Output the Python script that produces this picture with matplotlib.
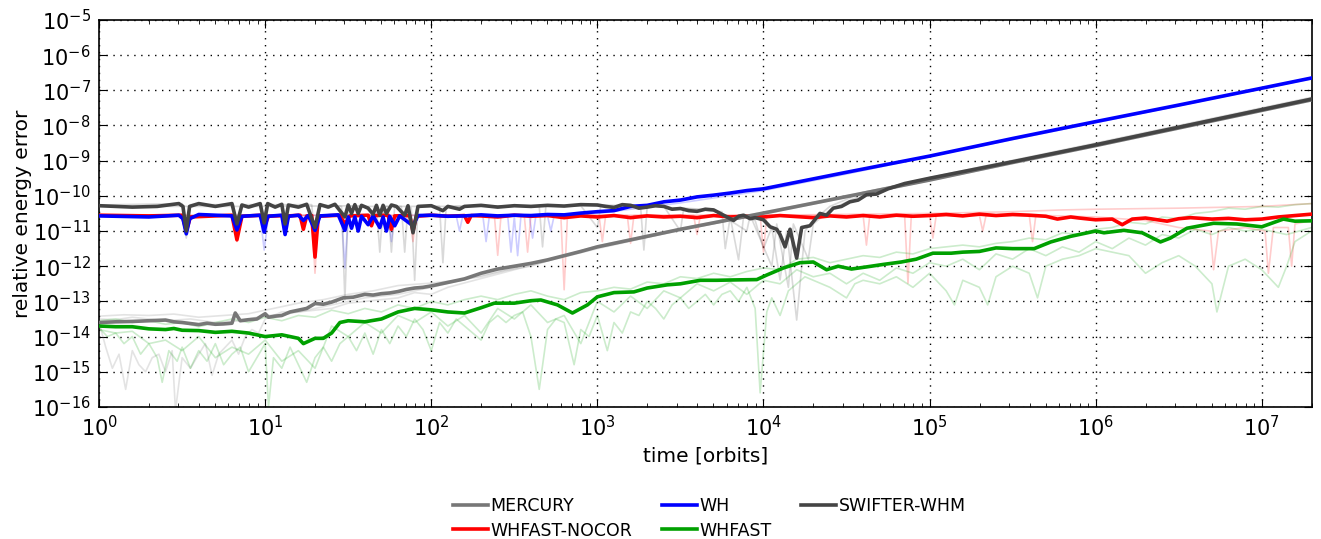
#! /usr/bin/env python3

import numpy as np
import matplotlib
matplotlib.use('Agg')
import matplotlib.pyplot as plt
import matplotlib.ticker as mticker
plt.rcParams.update({'font.size': 14, 'font.family': 'DejaVu Sans',
                     'mathtext.default': 'regular'})


#======================================================================
#    Data: (log10 time [orbits], log10 energy error)

# thick (representative) runs
mercury = [(0, -13.6), (0.1, -13.58), (0.2, -13.57), (0.3, -13.55), (0.4, -13.53),
           (0.45, -13.58), (0.5, -13.6), (0.55, -13.63), (0.6, -13.66), (0.65, -13.62),
           (0.7, -13.65), (0.75, -13.64), (0.8, -13.62), (0.82, -13.33), (0.85, -13.55),
           (0.9, -13.52), (0.95, -13.5), (1.0, -13.35), (1.02, -13.45), (1.06, -13.42),
           (1.1, -13.4), (1.15, -13.3), (1.2, -13.25), (1.25, -13.2), (1.3, -13.06),
           (1.35, -13.08), (1.4, -13.02), (1.47, -12.9), (1.53, -12.88), (1.6, -12.8),
           (1.65, -12.82), (1.7, -12.78), (1.75, -12.76), (1.8, -12.72), (1.85, -12.66),
           (1.9, -12.62), (1.95, -12.6), (2.0, -12.56), (2.1, -12.46), (2.2, -12.36),
           (2.3, -12.2), (2.4, -12.08), (2.5, -12.0), (2.6, -11.92), (2.7, -11.82),
           (2.8, -11.7), (2.9, -11.58), (3.0, -11.45), (3.5, -10.95), (4.0, -10.49),
           (4.5, -10.02), (5.0, -9.55), (5.5, -9.05), (6.0, -8.57), (6.5, -8.07),
           (7.0, -7.57), (7.3, -7.27)]

wh = [(0, -10.57), (0.3, -10.6), (0.48, -10.55), (0.505, -10.65), (0.525, -11.08),
      (0.545, -10.65), (0.6, -10.53), (0.8, -10.57), (0.83, -10.97), (0.86, -10.58),
      (0.97, -10.55), (0.994, -11.03), (1.015, -10.58), (1.1, -10.55), (1.12, -11.1),
      (1.14, -10.58), (1.2, -10.55), (1.23, -10.7), (1.26, -10.56), (1.30, -10.98),
      (1.33, -10.57), (1.44, -10.54), (1.48, -10.98), (1.50, -10.6), (1.52, -10.92),
      (1.54, -10.6), (1.56, -11.0), (1.58, -10.58), (1.62, -10.82), (1.65, -10.57),
      (1.69, -10.9), (1.71, -10.6), (1.73, -11.0), (1.75, -10.58), (1.78, -10.85),
      (1.81, -10.57), (1.89, -10.85), (1.92, -10.56), (2.0, -10.55), (2.1, -10.58),
      (2.2, -10.57), (2.3, -10.54), (2.4, -10.57), (2.5, -10.55), (2.6, -10.56),
      (2.7, -10.53), (2.8, -10.54), (2.9, -10.49), (3.0, -10.45), (3.1, -10.42),
      (3.2, -10.3), (3.3, -10.27), (3.4, -10.17), (3.5, -10.12), (3.6, -10.03),
      (3.7, -9.98), (3.8, -9.92), (3.9, -9.85), (4.0, -9.8), (4.5, -9.33), (5.0, -8.87),
      (5.5, -8.37), (6.0, -7.89), (6.5, -7.42), (7.0, -6.94), (7.3, -6.65)]

swifter = [(0, -10.28), (0.2, -10.32), (0.35, -10.3), (0.48, -10.22), (0.505, -10.3),
           (0.525, -11.0), (0.545, -10.3), (0.6, -10.22), (0.7, -10.3), (0.8, -10.22),
           (0.83, -10.8), (0.86, -10.26), (0.9, -10.32), (0.97, -10.22), (0.994, -10.77),
           (1.015, -10.22), (1.06, -10.32), (1.1, -10.24), (1.12, -10.8), (1.14, -10.26),
           (1.2, -10.32), (1.25, -10.24), (1.30, -10.9), (1.33, -10.25), (1.38, -10.32),
           (1.42, -10.24), (1.48, -10.6), (1.50, -10.26), (1.52, -10.5), (1.54, -10.25),
           (1.56, -10.5), (1.58, -10.27), (1.62, -10.35), (1.65, -10.52), (1.67, -10.27),
           (1.69, -10.55), (1.71, -10.27), (1.73, -10.5), (1.76, -10.26), (1.79, -10.3),
           (1.84, -10.55), (1.86, -10.28), (1.89, -11.05), (1.92, -10.3), (2.0, -10.28),
           (2.07, -10.42), (2.1, -10.3), (2.17, -10.38), (2.2, -10.3), (2.3, -10.27),
           (2.4, -10.32), (2.5, -10.28), (2.6, -10.3), (2.7, -10.27), (2.8, -10.29),
           (2.9, -10.25), (3.0, -10.26), (3.05, -10.3), (3.1, -10.33), (3.15, -10.25),
           (3.2, -10.27), (3.25, -10.35), (3.3, -10.32), (3.35, -10.28), (3.4, -10.3),
           (3.45, -10.38), (3.5, -10.36), (3.55, -10.42), (3.6, -10.44), (3.65, -10.38),
           (3.7, -10.4), (3.74, -10.5), (3.78, -10.6), (3.82, -10.7), (3.85, -10.58),
           (3.88, -10.55), (3.92, -10.65), (3.95, -10.62), (4.0, -10.68), (4.04, -10.88),
           (4.08, -10.95), (4.1, -11.1), (4.13, -11.45), (4.16, -10.95), (4.2, -11.77),
           (4.23, -10.9), (4.28, -10.85), (4.34, -10.5), (4.38, -10.55), (4.42, -10.35),
           (4.47, -10.3), (4.52, -10.17), (4.57, -10.12), (4.62, -9.97), (4.68, -9.95),
           (4.75, -9.8), (4.85, -9.65), (5.0, -9.5), (5.5, -9.03), (6.0, -8.55),
           (6.5, -8.05), (7.0, -7.55), (7.3, -7.25)]

nocor = [(0, -10.55), (0.3, -10.57), (0.5, -10.55), (0.525, -11.0), (0.55, -10.6),
         (0.8, -10.55), (0.83, -11.25), (0.86, -10.58), (0.98, -10.55), (1.0, -10.8),
         (1.02, -10.58), (1.11, -10.56), (1.125, -10.8), (1.14, -10.57), (1.21, -10.55),
         (1.23, -10.95), (1.25, -10.57), (1.28, -10.56), (1.30, -11.74), (1.32, -10.58),
         (1.45, -10.55), (1.48, -10.8), (1.51, -10.57), (1.62, -10.55), (1.64, -10.85),
         (1.66, -10.56), (1.74, -10.55), (1.76, -10.95), (1.78, -10.57), (1.87, -10.56),
         (1.89, -11.0), (1.91, -10.58), (2.0, -10.55), (2.1, -10.58), (2.2, -10.56),
         (2.22, -10.75), (2.24, -10.56), (2.3, -10.57), (2.4, -10.6), (2.5, -10.55),
         (2.6, -10.58), (2.7, -10.56), (2.8, -10.62), (2.9, -10.57), (3.0, -10.6),
         (3.1, -10.56), (3.2, -10.62), (3.3, -10.57), (3.4, -10.6), (3.5, -10.58),
         (3.6, -10.62), (3.7, -10.56), (3.8, -10.6), (3.9, -10.58), (4.0, -10.6),
         (4.1, -10.56), (4.2, -10.59), (4.3, -10.62), (4.4, -10.57), (4.5, -10.6),
         (4.6, -10.56), (4.7, -10.6), (4.8, -10.55), (4.9, -10.58), (5.0, -10.56),
         (5.1, -10.53), (5.2, -10.57), (5.3, -10.52), (5.4, -10.56), (5.5, -10.53),
         (5.6, -10.55), (5.7, -10.58), (5.77, -10.66), (5.85, -10.6), (5.9, -10.63),
         (6.0, -10.68), (6.1, -10.66), (6.16, -10.82), (6.22, -10.66), (6.3, -10.63),
         (6.43, -10.72), (6.5, -10.65), (6.57, -10.62), (6.7, -10.66), (6.8, -10.64),
         (6.9, -10.68), (7.0, -10.66), (7.1, -10.6), (7.2, -10.56), (7.3, -10.52)]

whfast = [(0, -13.7), (0.1, -13.72), (0.2, -13.72), (0.3, -13.78), (0.4, -13.8),
          (0.45, -13.77), (0.5, -13.82), (0.6, -13.83), (0.7, -13.88), (0.8, -13.85),
          (0.9, -13.9), (1.0, -14.0), (1.1, -13.95), (1.15, -14.0), (1.2, -14.05),
          (1.23, -14.2), (1.3, -14.05), (1.35, -14.05), (1.4, -13.9), (1.45, -13.6),
          (1.5, -13.55), (1.6, -13.58), (1.7, -13.5), (1.8, -13.3), (1.9, -13.2),
          (2.0, -13.24), (2.1, -13.3), (2.2, -13.33), (2.3, -13.18), (2.38, -13.05),
          (2.5, -13.05), (2.6, -12.98), (2.66, -12.96), (2.76, -13.1), (2.85, -13.33),
          (2.94, -13.1), (3.0, -12.87), (3.1, -12.75), (3.22, -12.73), (3.3, -12.62),
          (3.42, -12.53), (3.5, -12.5), (3.62, -12.4), (3.72, -12.4), (3.82, -12.39),
          (3.96, -12.38), (4.02, -12.25), (4.12, -12.05), (4.22, -11.9), (4.3, -11.88),
          (4.38, -12.1), (4.45, -12.0), (4.53, -12.08), (4.62, -12.02), (4.72, -11.95),
          (4.83, -11.88), (4.92, -11.8), (5.02, -11.63), (5.13, -11.63), (5.2, -11.6),
          (5.3, -11.58), (5.4, -11.48), (5.5, -11.5), (5.63, -11.5), (5.73, -11.31),
          (5.85, -11.15), (6.0, -11.0), (6.05, -11.05), (6.17, -10.98), (6.28, -11.05),
          (6.39, -11.31), (6.45, -11.2), (6.55, -10.92), (6.71, -10.78), (6.85, -10.8),
          (7.0, -10.88), (7.13, -10.66), (7.2, -10.72), (7.3, -10.71)]

# faint (other) runs
mercury_runs = [
    [(0, -13.42), (0.15, -13.38), (0.3, -13.4), (0.45, -13.36), (0.6, -13.45),
     (0.75, -13.4), (0.9, -13.35), (1.05, -13.2), (1.2, -13.05), (1.35, -12.95),
     (1.5, -12.8), (1.65, -12.7), (1.8, -12.55), (2.0, -12.48), (2.15, -12.4),
     (2.3, -12.3), (2.45, -12.12), (2.6, -12.0), (2.8, -11.7), (3.0, -11.42),
     (3.5, -10.93), (4.0, -10.46), (4.5, -10.0), (5.0, -9.52), (5.5, -9.02),
     (6.0, -8.53), (6.5, -8.03), (7.0, -7.53), (7.3, -7.23)],
    [(0, -13.5), (0.1, -13.52), (0.2, -13.45), (0.3, -13.5), (0.4, -13.55),
     (0.55, -13.5), (0.7, -13.6), (0.85, -13.55), (1.0, -13.4), (1.1, -13.38),
     (1.2, -13.3), (1.3, -13.25), (1.4, -13.2), (1.5, -13.05), (1.6, -13.0),
     (1.7, -12.95), (1.8, -12.9), (1.9, -12.75), (2.0, -12.8), (2.1, -12.6),
     (2.3, -12.35), (2.5, -12.1), (2.7, -11.85), (3.0, -11.5), (3.5, -10.97),
     (4.0, -10.52), (5.0, -9.57), (6.0, -8.6), (7.3, -7.3)],
    [(0, -13.6), (0.04, -14.3), (0.08, -14.9), (0.12, -14.5), (0.16, -15.5), (0.2, -14.4),
     (0.24, -14.8), (0.28, -15.0), (0.32, -14.6), (0.36, -14.5), (0.4, -15.0), (0.44, -14.4),
     (0.46, -16.1), (0.5, -14.6), (0.55, -14.9), (0.6, -14.5), (0.64, -14.2), (0.68, -15.1),
     (0.72, -14.5), (0.76, -14.3), (0.8, -14.1), (0.84, -14.5), (0.88, -14.0), (0.92, -13.8),
     (0.96, -13.9), (1.0, -13.5), (1.1, -13.3), (1.2, -13.3), (1.3, -13.2), (1.4, -13.1),
     (1.5, -13.0), (1.6, -12.9), (1.8, -12.8), (2.0, -12.6), (2.5, -12.05), (3.0, -11.47),
     (4.0, -10.5), (5.0, -9.55), (6.0, -8.56), (7.3, -7.26)],
]

swifter_runs = [
    [(0, -10.26), (0.5, -10.22), (0.525, -11.2), (0.55, -10.25), (0.81, -10.25),
     (0.83, -11.0), (0.86, -10.25), (0.97, -10.25), (0.994, -11.0), (1.02, -10.25),
     (1.28, -10.25), (1.3, -11.2), (1.33, -10.25), (1.46, -10.3), (1.48, -12.96),
     (1.50, -10.3), (1.67, -10.3), (1.69, -11.6), (1.71, -10.3), (1.74, -10.3),
     (1.76, -11.6), (1.78, -10.3), (1.82, -10.3), (1.84, -11.6), (1.86, -10.3),
     (1.88, -10.35), (1.90, -12.4), (1.92, -10.3), (2.05, -10.3), (2.07, -11.9),
     (2.09, -10.3), (2.3, -10.28), (2.65, -10.3), (2.67, -11.45), (2.69, -10.3),
     (3.0, -10.25), (3.26, -10.3), (3.28, -11.54), (3.30, -10.3), (3.5, -10.35),
     (3.75, -10.45), (3.77, -11.5), (3.8, -10.6), (3.85, -11.82), (3.88, -10.6),
     (3.95, -10.7), (4.0, -11.5), (4.05, -10.9), (4.1, -12.39), (4.14, -11.0),
     (4.2, -13.53), (4.25, -11.0), (4.3, -10.7), (4.4, -10.3), (4.5, -10.1),
     (4.6, -9.9), (4.8, -9.7), (5.0, -9.48), (6.0, -8.5), (7.0, -7.5), (7.3, -7.2)],
    [(0, -10.3), (1.0, -10.3), (1.6, -10.28), (1.7, -10.9), (1.72, -10.3), (2.2, -10.3),
     (2.9, -10.28), (3.0, -10.9), (3.02, -10.3), (3.4, -10.3), (3.5, -11.0), (3.52, -10.35),
     (3.7, -10.4), (3.9, -11.0), (3.92, -10.55), (4.05, -12.0), (4.08, -10.8), (4.15, -12.6),
     (4.18, -10.8), (4.27, -11.8), (4.3, -10.8), (4.4, -10.4), (4.6, -9.95), (5.0, -9.52),
     (6.0, -8.52), (7.3, -7.22)],
]

wh_runs = [
    [(0, -10.55), (0.5, -10.55), (0.525, -11.1), (0.55, -10.58), (0.97, -10.55),
     (0.994, -11.54), (1.02, -10.56), (1.46, -10.55), (1.48, -12.05), (1.50, -10.56),
     (1.74, -10.55), (1.76, -11.3), (1.78, -10.56), (2.0, -10.55), (2.15, -10.56),
     (2.17, -11.0), (2.19, -10.56), (2.31, -10.55), (2.33, -11.3), (2.35, -10.56),
     (2.46, -10.55), (2.48, -11.6), (2.50, -10.6), (2.52, -11.7), (2.54, -10.56),
     (2.59, -10.55), (2.61, -11.2), (2.63, -10.56), (2.7, -10.57), (2.72, -11.0),
     (2.74, -10.56), (3.0, -10.5), (3.5, -10.2), (4.0, -9.85), (4.5, -9.38),
     (5.0, -8.88), (6.0, -7.92), (7.0, -6.96), (7.3, -6.67)],
]

nocor_runs = [
    [(0, -10.56), (0.81, -10.56), (0.83, -11.3), (0.85, -10.56), (1.28, -10.56),
     (1.30, -12.2), (1.32, -10.56), (1.87, -10.56), (1.89, -11.3), (1.91, -10.56),
     (2.38, -10.56), (2.40, -11.69), (2.42, -10.56), (2.56, -10.56), (2.58, -11.6),
     (2.60, -10.56), (2.78, -10.56), (2.80, -12.67), (2.82, -10.56), (3.01, -10.56),
     (3.03, -11.3), (3.05, -10.56), (3.18, -10.56), (3.2, -11.35), (3.22, -10.56),
     (3.58, -10.56), (3.6, -11.1), (3.62, -10.56), (3.98, -10.56), (4.0, -11.6),
     (4.02, -10.56), (4.6, -10.56), (4.62, -11.4), (4.64, -10.56), (4.85, -10.56),
     (4.87, -12.48), (4.89, -10.56), (5.0, -10.56), (5.02, -11.2), (5.04, -10.56),
     (5.3, -10.56), (5.32, -11.0), (5.34, -10.56), (5.6, -10.55), (5.62, -11.3),
     (5.64, -10.55), (6.0, -10.6), (6.3, -10.7), (6.5, -10.9), (6.69, -11.0),
     (6.71, -12.1), (6.74, -11.0), (6.9, -10.9), (7.02, -11.0), (7.04, -12.2),
     (7.07, -10.9), (7.16, -10.9), (7.18, -12.0), (7.2, -10.8), (7.3, -10.7)],
    [(0, -10.55), (2.0, -10.55), (3.0, -10.55), (4.0, -10.55), (5.0, -10.5),
     (5.5, -10.45), (5.8, -10.4), (6.0, -10.38), (6.5, -10.35), (7.0, -10.3), (7.3, -10.22)],
]

whfast_runs = [
    [(0, -13.55), (0.1, -13.5), (0.2, -13.6), (0.3, -13.55), (0.4, -13.65), (0.5, -13.6),
     (0.6, -13.72), (0.7, -13.6), (0.8, -13.5), (0.9, -13.6), (1.0, -13.45), (1.1, -13.55),
     (1.2, -13.4), (1.3, -13.45), (1.4, -13.25), (1.5, -13.35), (1.6, -13.2), (1.7, -13.3),
     (1.8, -13.1), (1.9, -13.2), (2.0, -13.0), (2.1, -13.1), (2.2, -12.95), (2.3, -12.85),
     (2.4, -12.95), (2.5, -12.8), (2.6, -12.7), (2.7, -12.85), (2.8, -12.95), (2.9, -12.75),
     (3.0, -12.7), (3.1, -12.6), (3.2, -12.65), (3.3, -12.45), (3.4, -12.5), (3.5, -12.3),
     (3.6, -12.35), (3.7, -12.2), (3.8, -12.3), (3.9, -12.15), (4.0, -12.05), (4.1, -12.1),
     (4.2, -11.8), (4.3, -11.75), (4.4, -11.9), (4.5, -11.8), (4.6, -11.7), (4.7, -11.75),
     (4.8, -11.6), (4.9, -11.65), (5.0, -11.5), (5.1, -11.45), (5.2, -11.4), (5.3, -11.45),
     (5.4, -11.35), (5.5, -11.3), (5.6, -11.2), (5.7, -11.25), (5.8, -11.05), (5.9, -11.1),
     (6.0, -10.95), (6.1, -10.9), (6.2, -10.75), (6.3, -10.8), (6.4, -10.6), (6.5, -10.65),
     (6.6, -10.5), (6.7, -10.45), (6.8, -10.35), (6.9, -10.38), (7.0, -10.3), (7.1, -10.32),
     (7.2, -10.25), (7.3, -10.22)],
    [(0, -13.8), (0.1, -13.9), (0.2, -13.85), (0.3, -14.2), (0.4, -14.1), (0.5, -14.4),
     (0.6, -14.0), (0.7, -14.6), (0.8, -14.3), (0.9, -14.5), (1.0, -14.1), (1.1, -14.7),
     (1.2, -14.4), (1.3, -14.9), (1.4, -13.7), (1.5, -14.0), (1.6, -13.6), (1.7, -13.9),
     (1.8, -13.4), (1.9, -13.6), (2.0, -13.3), (2.1, -13.7), (2.2, -13.4), (2.3, -13.9),
     (2.4, -13.2), (2.5, -13.5), (2.6, -13.1), (2.7, -13.6), (2.8, -13.4), (2.9, -14.2),
     (3.0, -13.0), (3.1, -13.3), (3.2, -12.85), (3.3, -13.2), (3.4, -12.7), (3.5, -12.9),
     (3.6, -12.5), (3.7, -12.7), (3.8, -12.45), (3.9, -12.8), (4.0, -12.4), (4.1, -12.5),
     (4.2, -12.1), (4.3, -12.3), (4.4, -12.2), (4.5, -12.5), (4.6, -12.2), (4.7, -12.4),
     (4.8, -12.05), (4.9, -12.2), (5.0, -11.9), (5.1, -12.0), (5.2, -11.8), (5.3, -12.1),
     (5.4, -11.65), (5.5, -11.8), (5.6, -11.5), (5.7, -11.7), (5.8, -11.45), (5.9, -11.6),
     (6.0, -11.3), (6.1, -11.5), (6.2, -11.2), (6.3, -11.4), (6.4, -11.1), (6.5, -11.2),
     (6.6, -10.95), (6.7, -11.1), (6.8, -10.9), (6.9, -11.0), (7.0, -10.95), (7.15, -11.1),
     (7.3, -10.9)],
    [(0, -13.75), (0.05, -14.0), (0.1, -13.9), (0.15, -14.2), (0.2, -14.0), (0.25, -14.5),
     (0.3, -14.2), (0.35, -14.6), (0.38, -15.3), (0.42, -14.4), (0.47, -14.7), (0.5, -14.3),
     (0.55, -14.9), (0.6, -14.4), (0.65, -14.7), (0.7, -14.2), (0.75, -14.8), (0.8, -14.5),
     (0.85, -14.3), (0.9, -15.0), (0.95, -14.6), (1.0, -14.2), (1.02, -16.0), (1.05, -14.6),
     (1.1, -14.9), (1.15, -14.3), (1.2, -14.8), (1.25, -15.3), (1.3, -14.6), (1.35, -14.3),
     (1.4, -14.7), (1.45, -14.2), (1.5, -14.0), (1.55, -14.4), (1.6, -13.9), (1.65, -14.5),
     (1.7, -13.8), (1.75, -14.2), (1.8, -13.7), (1.85, -14.0), (1.9, -13.5), (1.95, -13.8),
     (2.0, -14.4), (2.05, -13.6), (2.1, -13.9), (2.15, -13.5), (2.2, -13.7), (2.25, -13.9),
     (2.3, -14.1), (2.35, -13.6), (2.4, -13.4), (2.45, -13.6), (2.5, -13.4), (2.55, -13.3),
     (2.6, -14.0), (2.65, -15.5), (2.7, -13.8), (2.75, -13.5), (2.8, -13.6), (2.86, -14.8),
     (2.9, -13.8), (2.95, -14.0), (3.0, -13.4), (3.06, -14.4), (3.1, -13.6), (3.15, -13.9),
     (3.2, -13.3), (3.25, -13.4), (3.3, -13.0), (3.35, -13.2), (3.4, -13.5), (3.45, -13.1),
     (3.5, -12.9), (3.55, -13.2), (3.6, -13.0), (3.65, -12.8), (3.7, -13.1), (3.75, -12.8),
     (3.8, -12.7), (3.85, -13.0), (3.9, -12.6), (3.95, -13.2), (3.98, -15.6), (4.02, -13.3),
     (4.05, -12.9), (4.1, -13.4), (4.15, -12.7), (4.2, -12.5), (4.25, -12.3), (4.3, -12.4),
     (4.4, -12.6), (4.5, -12.9), (4.55, -12.5), (4.6, -12.4), (4.7, -12.5), (4.8, -12.3),
     (4.9, -12.6), (5.0, -12.2), (5.1, -12.7), (5.15, -13.1), (5.2, -12.4), (5.3, -12.6),
     (5.35, -13.1), (5.4, -12.3), (5.5, -12.0), (5.6, -12.2), (5.65, -12.9), (5.7, -12.0),
     (5.8, -11.8), (5.9, -11.7), (6.0, -11.5), (6.1, -11.6), (6.2, -11.7), (6.3, -12.2),
     (6.4, -11.9), (6.5, -11.7), (6.6, -12.0), (6.7, -12.5), (6.73, -13.3), (6.8, -12.0),
     (6.9, -11.8), (7.0, -12.1), (7.1, -12.6), (7.15, -12.0), (7.2, -11.3), (7.3, -11.0)],
]

names = ['MERCURY', 'WH', 'SWIFTER-WHM', 'WHFAST-NOCOR', 'WHFAST']
colours = ['#777777', '#0000ff', '#444444', '#ff0000', '#00a000']


#======================================================================
#    Custom functions
def loglog(ax, pts, **kw):
    arr = np.asarray(pts, dtype=float)
    return ax.plot(10**arr[:, 0], 10**arr[:, 1], **kw)[0]


#======================================================================
#    Code begins here
fig = plt.figure(figsize=(13.21, 5.39), dpi=100)
ax = fig.add_axes([0.075, 0.245, 0.918, 0.718])

faint = [mercury_runs, wh_runs, swifter_runs, nocor_runs, whfast_runs]
thick = [mercury, wh, swifter, nocor, whfast]

for runs, col in zip(faint, colours):
    for run in runs:
        loglog(ax, run, color=col, alpha=0.2, lw=1.2)

handles = {}
zorder = {'WHFAST-NOCOR': 3, 'WH': 4, 'MERCURY': 5, 'SWIFTER-WHM': 6, 'WHFAST': 7}
for data, name, col in zip(thick, names, colours):
    handles[name] = loglog(ax, data, color=col, lw=2.6, label=name, zorder=zorder[name])

ax.set_xscale('log')
ax.set_yscale('log')
ax.set_xlim(1, 2e7)
ax.set_ylim(1e-16, 1e-5)
ax.yaxis.set_major_locator(mticker.LogLocator(base=10, numticks=20))
ax.yaxis.set_minor_locator(mticker.NullLocator())
ax.xaxis.set_major_locator(mticker.LogLocator(base=10, numticks=20))
ax.xaxis.set_minor_locator(mticker.LogLocator(base=10, subs=np.arange(2, 10), numticks=20))
ax.tick_params(which='both', direction='in', top=True, right=True)
ax.tick_params(which='major', length=6, labelsize=15, pad=6)
ax.tick_params(which='minor', length=3)
ax.grid(True, which='major', color='k', linestyle=(0, (1, 4)), lw=1)
for sp in ax.spines.values():
    sp.set_linewidth(1.2)

ax.set_xlabel('time [orbits]', fontsize=14.5)
ax.set_ylabel('relative energy error', fontsize=14.5, labelpad=0)

order = ['MERCURY', 'WHFAST-NOCOR', 'WH', 'WHFAST', 'SWIFTER-WHM']
fig.legend([handles[n] for n in order], order, loc='center', ncol=3,
           bbox_to_anchor=(0.537, 0.038), frameon=False, fontsize=12.5,
           handlelength=2.0, handletextpad=0.15, columnspacing=1.7,
           labelspacing=0.35)

fig.savefig('out.png', dpi=100)
